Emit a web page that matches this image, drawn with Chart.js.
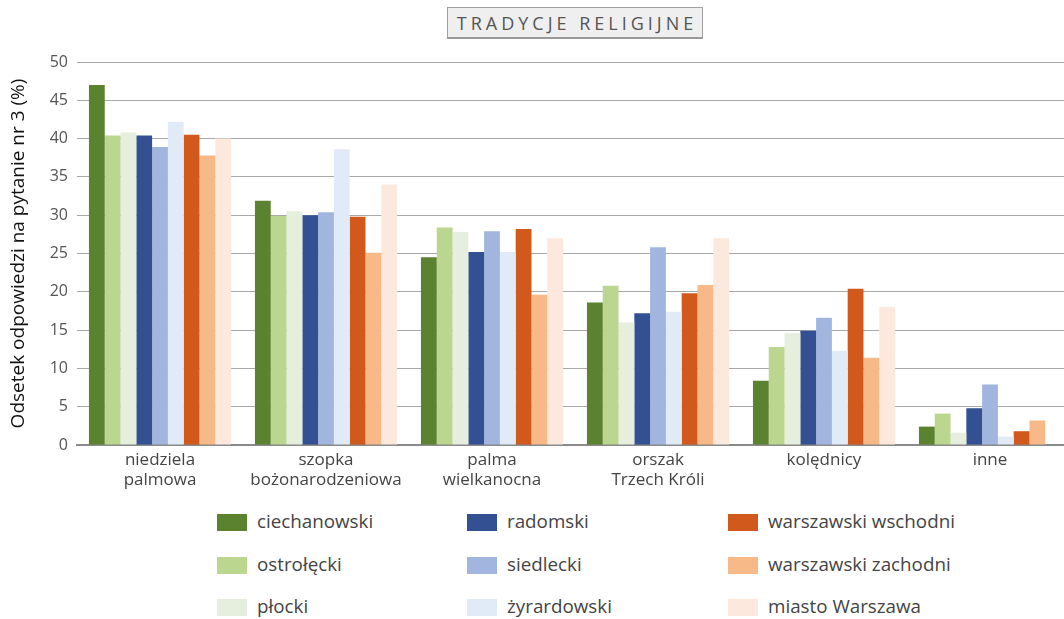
<!DOCTYPE html>
<html>
<head>
<meta charset="utf-8">
<script src="https://cdn.jsdelivr.net/npm/chart.js@4/dist/chart.umd.min.js"></script>
<style>
  html, body { margin: 0; padding: 0; background: #fff; overflow: hidden; }
  #wrap { position: relative; width: 1064px; height: 619px; overflow: hidden; font-family: "Open Sans", "Noto Sans", sans-serif; }
  #title { position: absolute; left: 447px; top: 7px; width: 256px; height: 32px; box-sizing: border-box;
           background: #efefef; border: 1px solid #a0a0a0; border-bottom: 2px solid #9a9a9a;
           color: #555; font-size: 18px; letter-spacing: 4px; text-indent: 4px; text-align: center; line-height: 30px; }
  #cv { position: absolute; left: 0; top: 0; }
  .lg { position: absolute; font-size: 18.8px; color: #444; white-space: nowrap; }
  .sw { position: absolute; width: 30px; height: 17px; }
</style>
</head>
<body>
<div id="wrap">
  <canvas id="cv" width="1073" height="500"></canvas>
  <div id="title">TRADYCJE RELIGIJNE</div>
  <div id="legend"></div>
</div>
<script>
const categories = [["niedziela", "palmowa"], ["szopka", "bożonarodzeniowa"], ["palma", "wielkanocna"], ["orszak", "Trzech Króli"], "kolędnicy", "inne"];
const seriesNames = ["ciechanowski", "ostrołęcki", "płocki", "radomski", "siedlecki", "żyrardowski", "warszawski wschodni", "warszawski zachodni", "miasto Warszawa"];
const ciechanowski = [47.0, 31.9, 24.5, 18.6, 8.4, 2.4];
const ostroleckiVals = [40.4, 29.9, 28.4, 20.8, 12.8, 4.1];
const plocki = [40.8, 30.5, 27.8, 16.0, 14.6, 1.6];
const radomski = [40.4, 30.0, 25.2, 17.2, 14.9, 4.8];
const siedlecki = [38.9, 30.4, 27.9, 25.8, 16.6, 7.9];
const zyrardowski = [42.2, 38.6, 25.2, 17.4, 12.3, 1.1];
const warszawskiWschodni = [40.5, 29.8, 28.2, 19.8, 20.4, 1.8];
const warszawskiZachodni = [37.8, 25.1, 19.6, 20.9, 11.4, 3.2];
const miastoWarszawa = [40.0, 34.0, 27.0, 27.0, 18.0, 0];
const yTicks = [0, 5, 10, 15, 20, 25, 30, 35, 40, 45, 50];
const colors = ["#5b822f", "#bbd68e", "#e6efdd", "#335192", "#a2b5de", "#e1eaf7", "#d0591b", "#f8b988", "#fce8dd"];

const values = [ciechanowski, ostroleckiVals, plocki, radomski, siedlecki, zyrardowski, warszawskiWschodni, warszawskiZachodni, miastoWarszawa];

const chart = new Chart(document.getElementById('cv'), {
  type: 'bar',
  data: {
    labels: categories,
    datasets: seriesNames.map((n, i) => ({
      label: n, data: values[i], backgroundColor: colors[i], borderWidth: 0,
      barPercentage: 1.0, categoryPercentage: 0.856
    }))
  },
  options: {
    responsive: false, animation: false,
    layout: { padding: { top: 62, right: 0, left: 0, bottom: 0 } },
    plugins: { legend: { display: false }, tooltip: { enabled: false } },
    scales: {
      x: {
        grid: { display: false, drawTicks: false },
        border: { display: true, color: '#8a8a8a', width: 2 },
        ticks: { color: '#444', font: { family: '"Open Sans"', size: 17 }, padding: 5, maxRotation: 0, autoSkip: false },
        afterFit: s => { s.height = 55; }
      },
      y: {
        min: 0, max: 50,
        afterBuildTicks: s => { s.ticks = yTicks.map(v => ({ value: v })); },
        grid: { color: '#a8a8a8', lineWidth: 1, drawTicks: false },
        border: { display: false },
        ticks: { color: '#555', font: { family: '"Open Sans"', size: 16 }, padding: 9 },
        title: { display: true, text: 'Odsetek odpowiedzi na pytanie nr 3 (%)', color: '#111',
                 font: { family: '"Open Sans"', size: 19 }, padding: { top: 7, bottom: 0 } },
        afterFit: s => { s.width = 77; }
      }
    }
  }
});

// HTML legend built from the chart's datasets (column-major order, 3x3)
const lg = document.getElementById('legend');
const colX = [217, 467, 728];
const rowY = [522, 565, 607];
chart.data.datasets.forEach((ds, i) => {
  const c = Math.floor(i / 3), r = i % 3;
  const sw = document.createElement('div');
  sw.className = 'sw';
  sw.style.left = colX[c] + 'px';
  sw.style.top = (rowY[r] - 8) + 'px';
  sw.style.background = ds.backgroundColor;
  lg.appendChild(sw);
  const t = document.createElement('div');
  t.className = 'lg';
  t.textContent = ds.label;
  t.style.left = (colX[c] + 40) + 'px';
  t.style.top = (rowY[r] - 14) + 'px';
  lg.appendChild(t);
});
</script>
</body>
</html>
